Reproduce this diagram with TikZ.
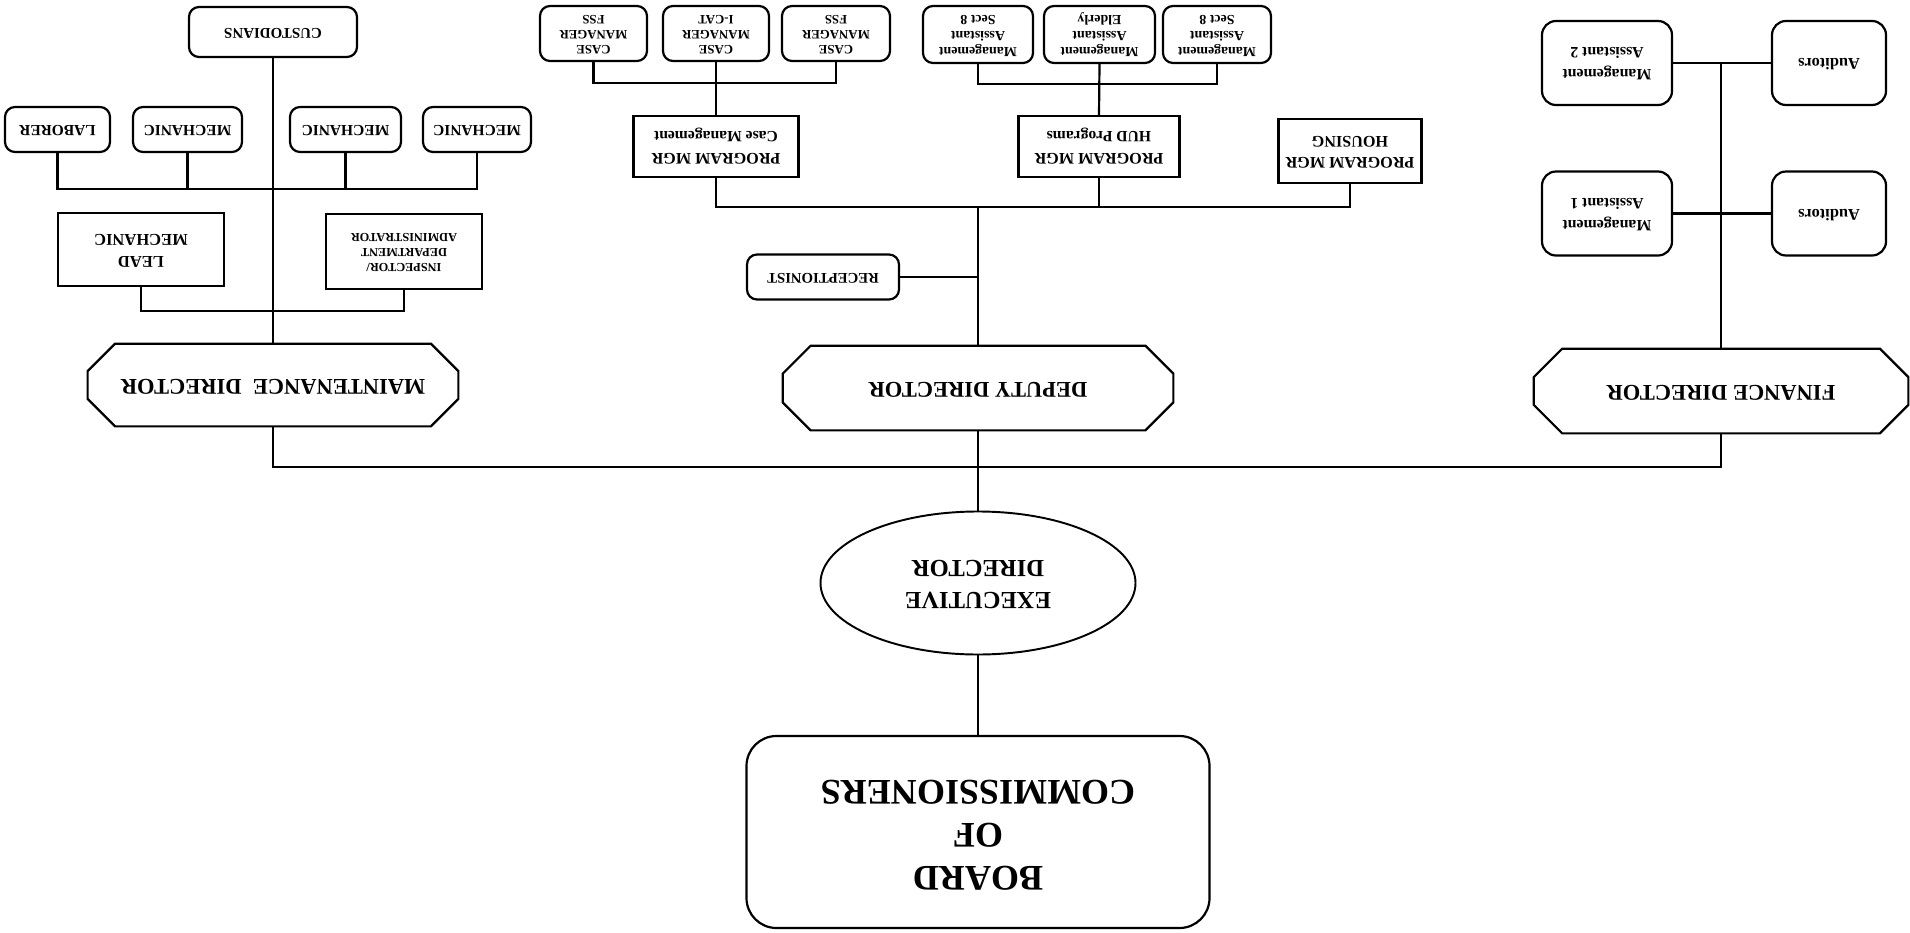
\documentclass[tikz,border=0pt]{standalone}
\usepackage{fontspec}
\setmainfont{Liberation Serif}
\usepackage{graphicx}
\usetikzlibrary{shapes.geometric}
\newcommand{\ud}[1]{\rotatebox[origin=c]{180}{\begin{tabular}{@{}c@{}}#1\end{tabular}}}
\newcommand{\fs}[2]{\fontsize{#1}{#2}\selectfont\bfseries}
\newcommand{\octbox}[2]{\draw[ln] ([xshift=#2]#1.north west) -- ([xshift=-#2]#1.north east) -- ([yshift=-#2]#1.north east) -- ([yshift=#2]#1.south east) -- ([xshift=-#2]#1.south east) -- ([xshift=#2]#1.south west) -- ([yshift=#2]#1.south west) -- ([yshift=-#2]#1.north west) -- cycle;}
\tikzset{
  ln/.style={line width=1.25pt},
  box/.style={draw, line width=1.25pt, inner sep=0pt, align=center},
  rbox/.style={box, rounded corners=0.2cm},
  rboxb/.style={box, rounded corners=0.28cm},
  oct/.style={inner sep=0pt, align=center, font=\fs{12.8}{15}},
  sz/.style 2 args={minimum width=#1*0.02cm, minimum height=#2*0.02cm},
}
\begin{document}
\begin{tikzpicture}[x=0.02cm, y=-0.02cm]
\fill[white] (0,0) rectangle (1910,933);
\useasboundingbox (0,0) rectangle (1910,933);

% ---------- Maintenance branch ----------
\node[rbox, sz={168}{50}, font=\fs{8.5}{10}] (cust) at (273,32) {\ud{CUSTODIANS}};
\node[rbox, sz={105}{45}, font=\fs{8.8}{10}] (lab) at (57.5,129.5) {\ud{LABORER}};
\node[rbox, sz={109}{45}, font=\fs{8.8}{10}] (m1) at (187.5,129.5) {\ud{MECHANIC}};
\node[rbox, sz={111}{45}, font=\fs{8.8}{10}] (m2) at (345.5,129.5) {\ud{MECHANIC}};
\node[rbox, sz={108}{45}, font=\fs{8.8}{10}] (m3) at (477,129.5) {\ud{MECHANIC}};
\node[box, sz={166}{73}, font=\fs{9.4}{12.5}] (lead) at (141,249.5) {\ud{LEAD\\MECHANIC}};
\node[box, sz={156}{75}, font=\fs{7}{8.5}] (insp) at (404,251.5) {\ud{INSPECTOR/\\DEPARTMENT\\ADMINISTRATOR}};
\node[oct, sz={370}{82}] (maint) at (273,385) {\ud{MAINTENANCE\ \ DIRECTOR}};
\octbox{maint}{0.55cm}

% ---------- Deputy branch ----------
\node[oct, sz={390}{84}] (dep) at (978,388) {\ud{DEPUTY DIRECTOR}};
\octbox{dep}{0.56cm}
\node[rbox, sz={152}{45}, font=\fs{8.4}{10}] (rec) at (823,277) {\ud{RECEPTIONIST}};
\node[box, sz={165}{61}, font=\fs{9.2}{12.5}] (cpm) at (716,146.5) {\ud{PROGRAM MGR\\{\fontsize{8.9}{12.5}\selectfont Case Management}}};
\node[box, sz={161}{61}, font=\fs{9.2}{12.5}] (hpm) at (1099,146.5) {\ud{PROGRAM MGR\\{\fontsize{8.9}{12.5}\selectfont HUD Programs}}};
\node[box, sz={143}{64}, font=\fs{9.2}{12}] (hsg) at (1350,151) {\ud{PROGRAM MGR\\HOUSING}};
\node[rbox, sz={107}{55}, font=\fs{7.3}{8.5}] (cm1) at (593.5,33.5) {\ud{CASE\\MANAGER\\FSS}};
\node[rbox, sz={106}{55}, font=\fs{7.3}{8.5}] (cm2) at (716,33.5) {\ud{CASE\\MANAGER\\I-CAT}};
\node[rbox, sz={108}{55}, font=\fs{7.3}{8.5}] (cm3) at (836,33.5) {\ud{CASE\\MANAGER\\FSS}};
\node[rbox, sz={110}{57}, font=\fs{7.9}{9}] (ma1) at (978,34.5) {\ud{Management\\Assistant\\Sect 8}};
\node[rbox, sz={111}{57}, font=\fs{7.9}{9}] (ma2) at (1099.5,34.5) {\ud{Management\\Assistant\\Elderly}};
\node[rbox, sz={108}{57}, font=\fs{7.9}{9}] (ma3) at (1217,34.5) {\ud{Management\\Assistant\\Sect 8}};

% ---------- Finance branch ----------
\node[oct, sz={374}{84}] (fin) at (1721,391) {\ud{FINANCE DIRECTOR}};
\octbox{fin}{0.57cm}
\node[rboxb, sz={130}{84}, font=\fs{9}{12.5}] (mas2) at (1607,63) {\ud{Management\\Assistant 2}};
\node[rboxb, sz={114}{84}, font=\fs{9.3}{12}] (aud2) at (1829,63) {\ud{Auditors}};
\node[rboxb, sz={130}{84}, font=\fs{9}{12.5}] (mas1) at (1607,213.5) {\ud{Management\\Assistant 1}};
\node[rboxb, sz={114}{84}, font=\fs{9.3}{12}] (aud1) at (1829,213.5) {\ud{Auditors}};

% ---------- Top ----------
\node[ellipse, draw, line width=1.1pt, inner sep=0pt, sz={315}{143}, align=center, font=\fs{14}{18}] (exec) at (978,583) {\ud{EXECUTIVE\\DIRECTOR}};
\node[box, rounded corners=0.6cm, sz={463}{192}, font=\fs{20.5}{24.5}] (board) at (978,832) {\ud{BOARD\\OF\\COMMISSIONERS}};

% ---------- Connectors ----------
\draw[line width=1.1pt] (board.north) -- (exec.south);
\draw[ln] (exec.north) -- (dep.south);
\coordinate (bus) at (978,467);
\draw[ln] (maint.south) |- (bus) -| (fin.south);

\draw[ln] (maint.north) -- (cust.south);
\coordinate (brk) at (273,311);
\draw[ln] (lead.south) |- (brk) -| (insp.south);
\coordinate (mbus) at (273,189);
\draw[ln] (lab.south) |- (mbus) -| (m3.south);
\draw[ln] (m1.south) -- (m1.south |- mbus);
\draw[ln] (m2.south) -- (m2.south |- mbus);

\coordinate (dbus) at (978,207);
\draw[ln] (dep.north) -- (dbus);
\draw[ln] (cpm.south) |- (dbus) -| (hsg.south);
\draw[ln] (hpm.south) -- (hpm.south |- dbus);
\draw[ln] (rec.east) -- (rec.east -| dep.north);
\draw[ln] (cpm.north) -- (cm2.south);
\coordinate (cbus) at (716,83);
\draw[ln] (cm1.south) |- (cbus) -| (cm3.south);
\draw[ln] (hpm.north) -- (ma2.south);
\coordinate (abus) at (1099,84);
\draw[ln] (ma1.south) |- (abus) -| (ma3.south);

\draw[ln] (fin.north) -- (fin.north |- mas2.east);
\draw[ln] (mas2.east) -- (aud2.west);
\draw[ln] (mas1.east) -- (aud1.west);
\end{tikzpicture}
\end{document}
